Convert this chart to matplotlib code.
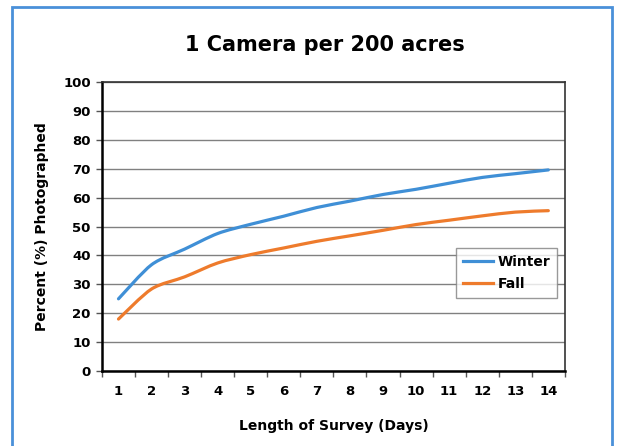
import numpy as np
import matplotlib.pyplot as plt
from matplotlib.path import Path
from matplotlib.patches import PathPatch, Rectangle
from matplotlib.lines import Line2D

days = list(range(1, 15))
winter = [25, 36.8, 42.2, 47.6, 50.8, 53.6, 56.6, 58.8, 61.1, 62.9, 65, 67, 68.3, 69.6]
fall = [18, 28.4, 32.6, 37.4, 40.3, 42.6, 44.9, 46.8, 48.7, 50.7, 52.2, 53.7, 55, 55.5]

BLUE = "#3F8FD6"
ORANGE = "#EE7B2C"


def smooth_path(x, y, tension=0.14):
    """Smoothed line through the points (cubic Bezier segments, Catmull-Rom style)."""
    x = np.asarray(x, float)
    y = np.asarray(y, float)
    verts = [(x[0], y[0])]
    codes = [Path.MOVETO]
    n = len(x)
    for i in range(n - 1):
        x0, y0 = (x[i - 1], y[i - 1]) if i > 0 else (x[i], y[i])
        x3, y3 = (x[i + 2], y[i + 2]) if i + 2 < n else (x[i + 1], y[i + 1])
        c1 = (x[i] + (x[i + 1] - x0) * tension, y[i] + (y[i + 1] - y0) * tension)
        c2 = (x[i + 1] - (x3 - x[i]) * tension, y[i + 1] - (y3 - y[i]) * tension)
        verts += [c1, c2, (x[i + 1], y[i + 1])]
        codes += [Path.CURVE4] * 3
    return Path(verts, codes)


fig = plt.figure(figsize=(6.18, 4.46), dpi=100)
ax = fig.add_axes([0.165, 0.168, 0.749, 0.648])

for vals, col in [(winter, BLUE), (fall, ORANGE)]:
    ax.add_patch(PathPatch(smooth_path(days, vals), facecolor="none",
                           edgecolor=col, lw=2.3, capstyle="round", zorder=3))

ax.set_xlim(0.5, 14.5)
ax.set_ylim(0, 100)
ax.set_yticks(range(0, 101, 10))
ax.set_xticks(days)
ax.set_xticks(np.arange(0.5, 15, 1), minor=True)
ax.tick_params(axis="x", which="major", length=0, pad=10)
ax.tick_params(axis="x", which="minor", length=4, width=1, color="#555555")
ax.tick_params(axis="y", length=4, width=1, color="#555555", pad=4)
for lab in ax.get_xticklabels() + ax.get_yticklabels():
    lab.set_fontweight("bold")
    lab.set_fontsize(9.5)

ax.grid(axis="y", color="#808080", lw=1)
ax.set_axisbelow(True)
for side in ["left", "bottom"]:
    ax.spines[side].set_linewidth(1.8)
    ax.spines[side].set_color("black")
for side in ["top", "right"]:
    ax.spines[side].set_linewidth(1.2)
    ax.spines[side].set_color("#333333")

ax.set_xlabel("Length of Survey (Days)", fontsize=10, fontweight="bold", labelpad=15)
ax.set_ylabel("Percent (%) Photographed", fontsize=10, fontweight="bold", labelpad=10)
fig.text(0.525, 0.9, "1 Camera per 200 acres", ha="center", va="center",
         fontsize=15, fontweight="bold")

handles = [Line2D([], [], color=BLUE, lw=2.3), Line2D([], [], color=ORANGE, lw=2.3)]
leg = ax.legend(handles, ["Winter", "Fall"], loc="center right",
                bbox_to_anchor=(0.998, 0.34), frameon=True, fancybox=False,
                prop={"weight": "bold", "size": 10}, handlelength=2.2,
                handletextpad=0.3, borderpad=0.5, labelspacing=0.6)
leg.get_frame().set_edgecolor("#808080")
leg.get_frame().set_linewidth(1)

# outer frame around the whole chart
fig.patches.append(Rectangle((0.0194, -0.1), 0.971, 1.084, transform=fig.transFigure,
                             fill=False, edgecolor="#4A90D9", lw=2, zorder=0))

fig.savefig("out.png", dpi=100)
